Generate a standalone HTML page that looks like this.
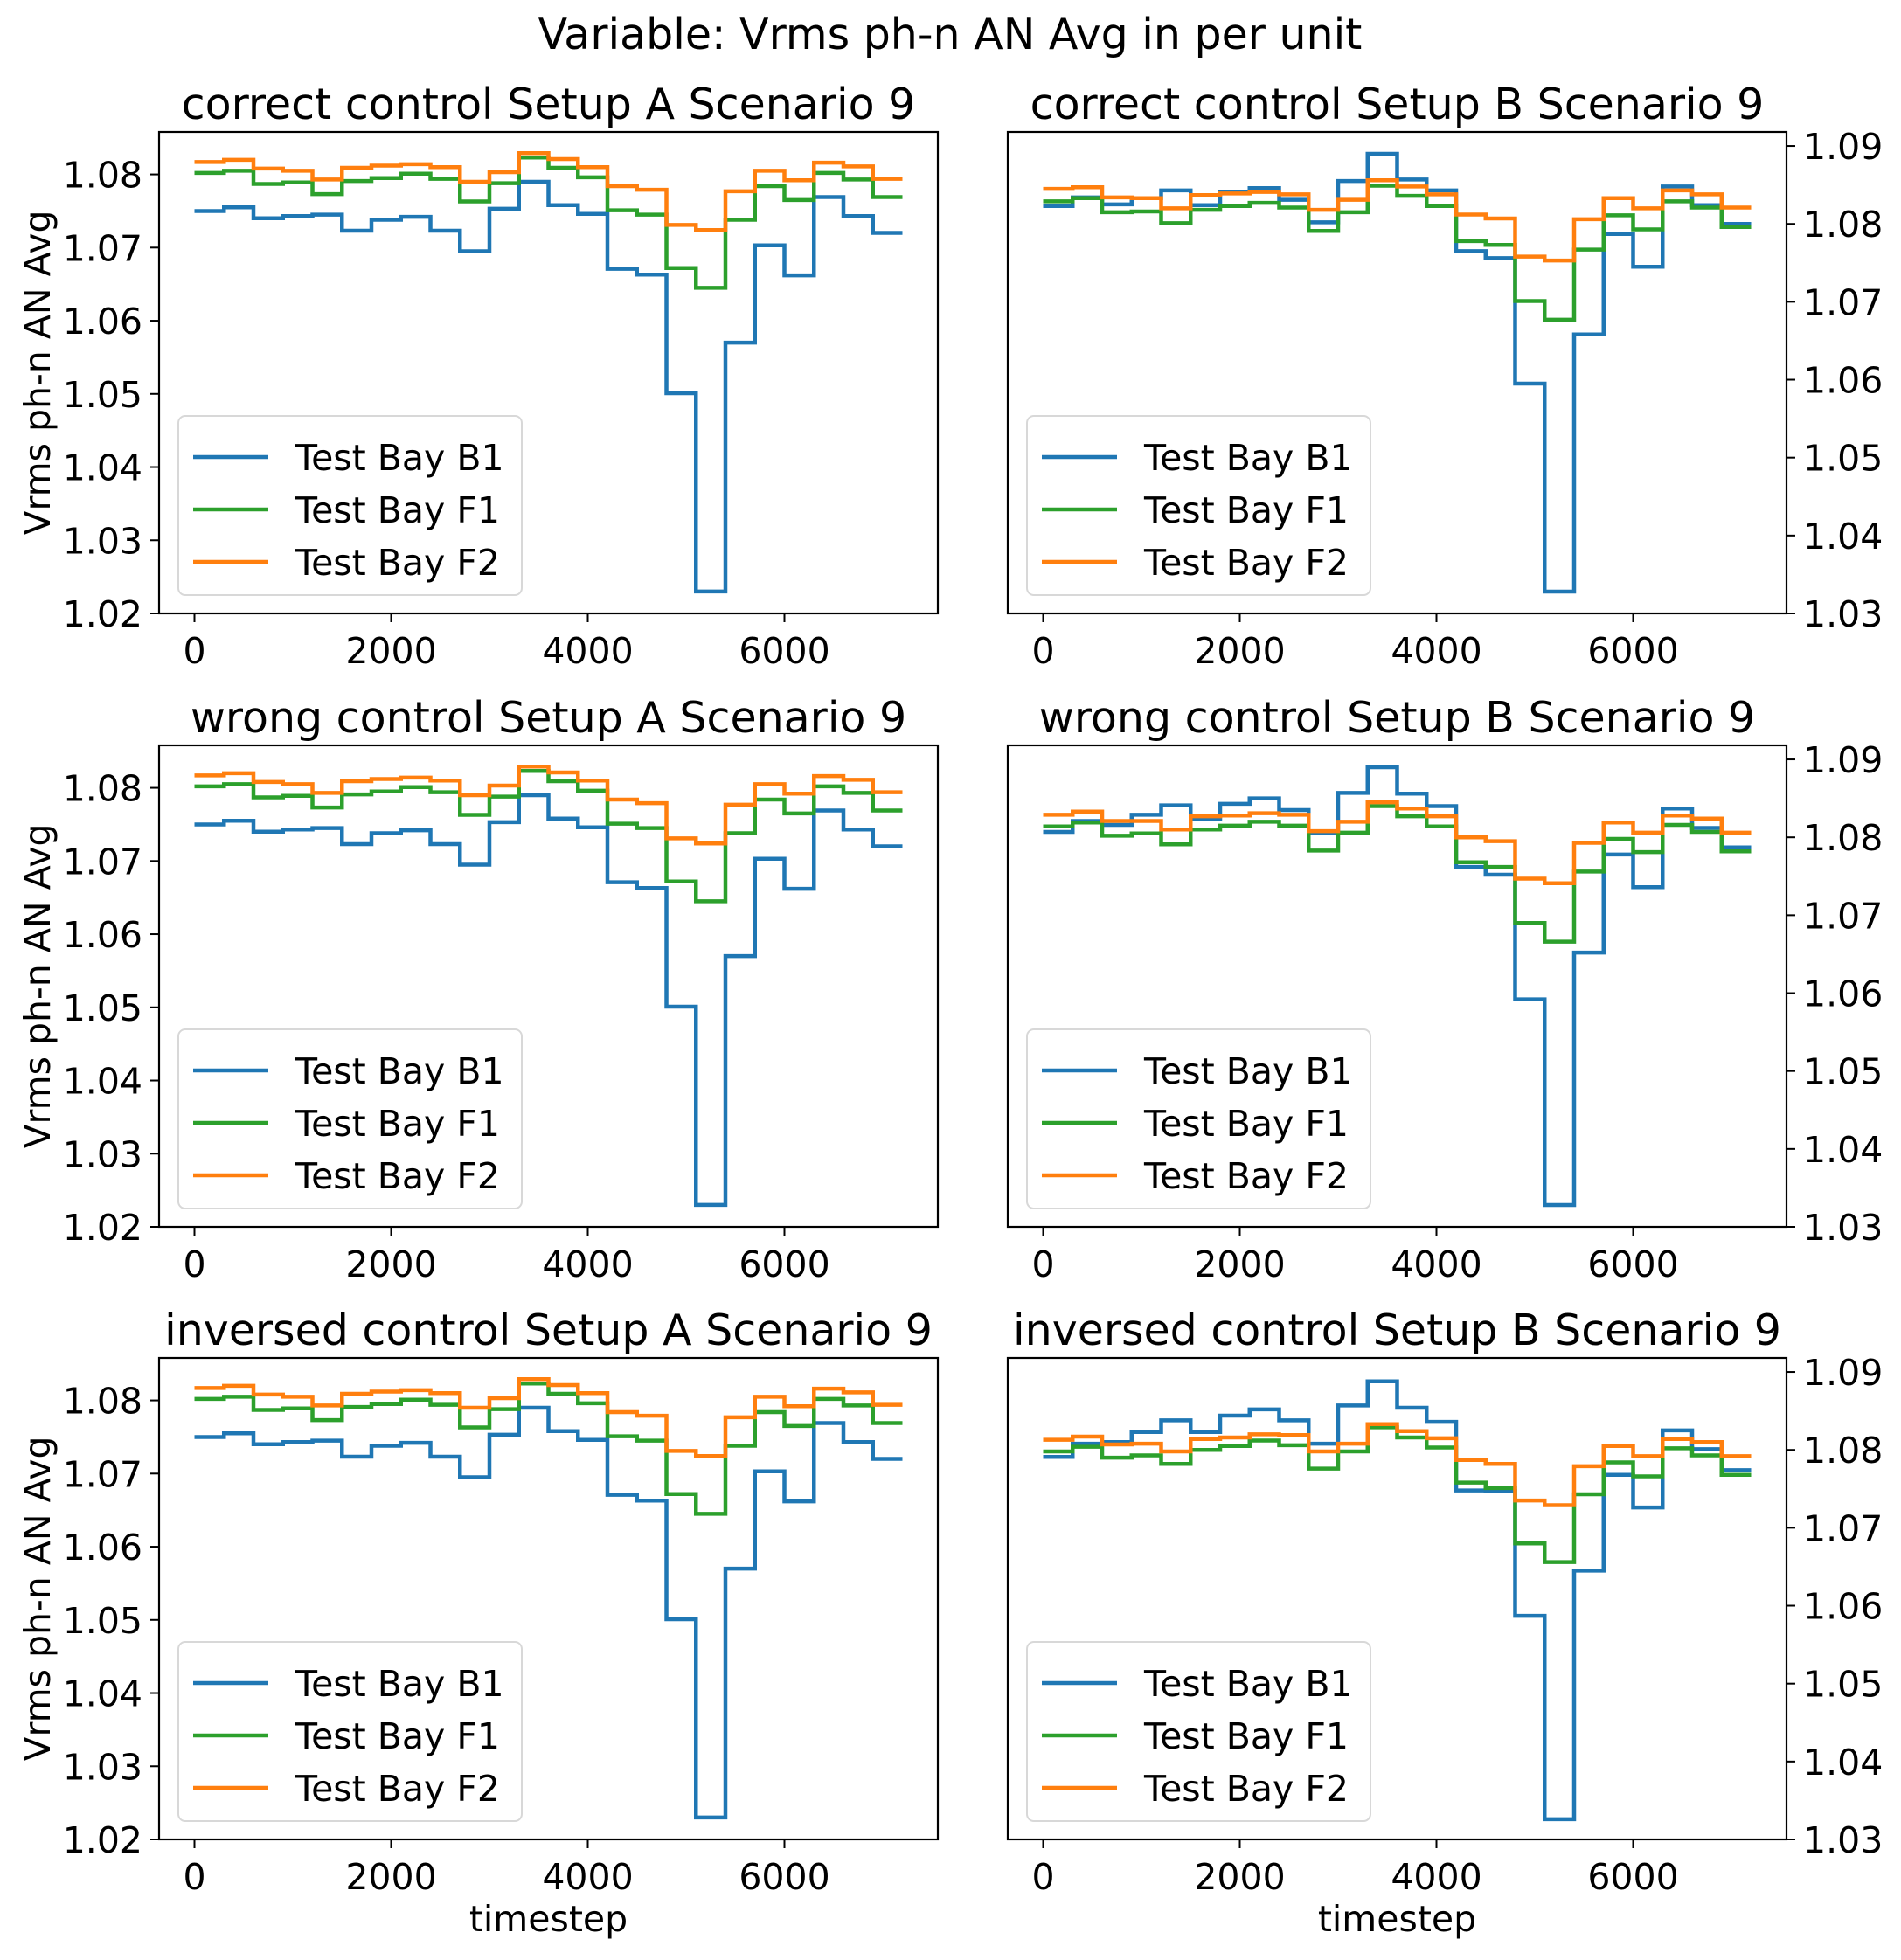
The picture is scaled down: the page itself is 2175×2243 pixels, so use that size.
<!DOCTYPE html>
<html><head><meta charset="utf-8"><style>
body{margin:0;background:#fff}
svg text{font-family:"DejaVu Sans","Liberation Sans",sans-serif;fill:#000}
</style></head><body>
<svg id="fig" xmlns="http://www.w3.org/2000/svg" width="2175" height="2238" viewBox="0 0 2175 2238">
<rect width="2175" height="2238" fill="#fff"/>
<text x="1087" y="56" font-size="49" text-anchor="middle">Variable: Vrms ph-n AN Avg in per unit</text>
</svg>
<script>
const xTicks=[0,2000,4000,6000];
const yTicksA=[1.02,1.03,1.04,1.05,1.06,1.07,1.08];
const yTicksB=[1.03,1.04,1.05,1.06,1.07,1.08,1.09];
const seriesNames=["Test Bay B1","Test Bay F1","Test Bay F2"];
const rowTitles=["correct control","wrong control","inversed control"];
const a_b1=[1.0750,1.0755,1.0740,1.0743,1.0745,1.0723,1.0738,1.0742,1.0723,1.0695,1.0753,1.0790,1.0758,1.0746,1.0671,1.0663,1.0501,1.0230,1.0570,1.0703,1.0662,1.0769,1.0743,1.0720];
const a_f1=[1.0802,1.0805,1.0787,1.0789,1.0773,1.0791,1.0795,1.0801,1.0794,1.0763,1.0788,1.0823,1.0809,1.0796,1.0751,1.0745,1.0672,1.0645,1.0738,1.0784,1.0765,1.0802,1.0793,1.0769];
const a_f2=[1.0817,1.0820,1.0808,1.0805,1.0793,1.0809,1.0812,1.0814,1.0810,1.0790,1.0803,1.0829,1.0821,1.0810,1.0784,1.0779,1.0731,1.0724,1.0777,1.0805,1.0792,1.0816,1.0811,1.0794];
const b1_b1=[1.0823,1.0834,1.0825,1.0833,1.0843,1.0824,1.0841,1.0846,1.0831,1.0802,1.0855,1.0890,1.0857,1.0843,1.0765,1.0756,1.0595,1.0328,1.0658,1.0787,1.0745,1.0848,1.0824,1.0800];
const b1_f1=[1.0829,1.0833,1.0815,1.0816,1.0801,1.0818,1.0823,1.0827,1.0821,1.0791,1.0815,1.0849,1.0836,1.0823,1.0778,1.0773,1.0701,1.0677,1.0767,1.0811,1.0793,1.0829,1.0821,1.0796];
const b1_f2=[1.0845,1.0847,1.0834,1.0833,1.0820,1.0837,1.0839,1.0841,1.0838,1.0818,1.0831,1.0856,1.0848,1.0838,1.0812,1.0807,1.0758,1.0753,1.0806,1.0833,1.0820,1.0843,1.0838,1.0821];
const b2_b1=[1.0807,1.0821,1.0816,1.0829,1.0841,1.0823,1.0843,1.0850,1.0835,1.0806,1.0857,1.0890,1.0856,1.0840,1.0762,1.0752,1.0592,1.0328,1.0652,1.0778,1.0736,1.0837,1.0812,1.0787];
const b2_f1=[1.0814,1.0819,1.0802,1.0805,1.0791,1.0810,1.0815,1.0820,1.0815,1.0783,1.0806,1.0840,1.0827,1.0814,1.0768,1.0762,1.0690,1.0666,1.0756,1.0798,1.0781,1.0816,1.0807,1.0782];
const b2_f2=[1.0829,1.0833,1.0821,1.0821,1.0810,1.0827,1.0828,1.0831,1.0829,1.0808,1.0820,1.0845,1.0837,1.0827,1.0800,1.0795,1.0747,1.0741,1.0793,1.0819,1.0806,1.0828,1.0824,1.0806];
const b3_b1=[1.0791,1.0808,1.0810,1.0823,1.0838,1.0823,1.0844,1.0852,1.0838,1.0808,1.0857,1.0888,1.0854,1.0836,1.0748,1.0747,1.0587,1.0326,1.0645,1.0768,1.0726,1.0825,1.0801,1.0774];
const b3_f1=[1.0798,1.0804,1.0790,1.0793,1.0782,1.0800,1.0805,1.0812,1.0806,1.0776,1.0798,1.0829,1.0816,1.0803,1.0758,1.0751,1.0680,1.0656,1.0743,1.0784,1.0766,1.0802,1.0793,1.0768];
const b3_f2=[1.0813,1.0817,1.0807,1.0808,1.0798,1.0814,1.0816,1.0820,1.0819,1.0798,1.0808,1.0833,1.0824,1.0815,1.0787,1.0782,1.0735,1.0729,1.0779,1.0805,1.0792,1.0814,1.0810,1.0792];
const stepSize=300;

const colors=["#1f77b4","#2ca02c","#ff7f0e"];
const NS="http://www.w3.org/2000/svg";
const svg=document.getElementById('fig');
function mk(tag,attrs,parent){const e=document.createElementNS(NS,tag);for(const k in attrs)e.setAttribute(k,attrs[k]);(parent||svg).appendChild(e);return e;}
const W=891,H=551,lefts=[182,1153],tops=[151,853,1554];
const xmin=-360,xmax=7560;
const FS=41;
function panel(col,row,data){
  const L=lefts[col],T=tops[row];
  const ymin=col===0?1.0200:1.0300, ymax=col===0?1.0858:1.0918;
  const sx=v=>L+(v-xmin)/(xmax-xmin)*W;
  const sy=v=>T+H-(v-ymin)/(ymax-ymin)*H;
  const g=mk('g',{});
  
  
  const t=mk('text',{x:L+W/2,y:T-15,'font-size':49,'text-anchor':'middle'},g);
  
  
  t.textContent=rowTitles[row]+' Setup '+(col===0?'A':'B')+' Scenario 9';
  data.forEach((vals,si)=>{
    let d='M'+sx(0)+','+sy(vals[0]);
    for(let i=0;i<vals.length;i++){
      if(i>0)d+=' V'+sy(vals[i]);
      d+=' H'+sx((i+1)*stepSize);
    }
    const p=mk('path',{d:d,fill:'none',stroke:colors[si],'stroke-width':4.5,'stroke-linejoin':'miter'},g);
    
    
  });
  const fr=mk('rect',{x:L,y:T,width:W,height:H,fill:'none',stroke:'#000','stroke-width':2.2},g);
  
  
  xTicks.forEach(v=>{
    mk('line',{x1:sx(v),x2:sx(v),y1:T+H,y2:T+H+10,stroke:'#000','stroke-width':2},g);
    const tl=mk('text',{x:sx(v),y:T+H+57,'font-size':FS,'text-anchor':'middle'},g);
    
    
    tl.textContent=v;
  });
  const yt=col===0?yTicksA:yTicksB;
  yt.forEach(v=>{
    const y=sy(v);
    if(col===0){
      mk('line',{x1:L-10,x2:L,y1:y,y2:y,stroke:'#000','stroke-width':2},g);
      const tl=mk('text',{x:L-19,y:y+15,'font-size':FS,'text-anchor':'end'},g);
      
      
      tl.textContent=v.toFixed(2);
    }else{
      mk('line',{x1:L+W,x2:L+W+10,y1:y,y2:y,stroke:'#000','stroke-width':2},g);
      const tl=mk('text',{x:L+W+19,y:y+15,'font-size':FS,'text-anchor':'start'},g);
      
      
      tl.textContent=v.toFixed(2);
    }
  });
  if(col===0){
    const yl=mk('text',{x:0,y:0,'font-size':FS,'text-anchor':'middle',transform:'translate(57,'+(T+H/2)+') rotate(-90)'},g);
    
    
    yl.textContent='Vrms ph-n AN Avg';
  }
  if(row===2){
    const xl=mk('text',{x:L+W/2,y:2210,'font-size':FS,'text-anchor':'middle'},g);
    
    
    xl.textContent='timestep';
  }
  const lg=mk('g',{},g);
  
  
  mk('rect',{x:L+22,y:T+325,width:393,height:205,rx:8,fill:'#fff','fill-opacity':0.8,stroke:'#d8d8d8','stroke-width':2},lg);
  seriesNames.forEach((n,i)=>{
    const yy=T+372+i*60;
    mk('line',{x1:L+39,x2:L+125,y1:yy,y2:yy,stroke:colors[i],'stroke-width':4.5},lg);
    const lt=mk('text',{x:L+156,y:yy+15,'font-size':FS},lg);
    
    
    lt.textContent=n;
  });
}
panel(0,0,[a_b1,a_f1,a_f2]);
panel(0,1,[a_b1,a_f1,a_f2]);
panel(0,2,[a_b1,a_f1,a_f2]);
panel(1,0,[b1_b1,b1_f1,b1_f2]);
panel(1,1,[b2_b1,b2_f1,b2_f2]);
panel(1,2,[b3_b1,b3_f1,b3_f2]);
</script>
</body></html>
